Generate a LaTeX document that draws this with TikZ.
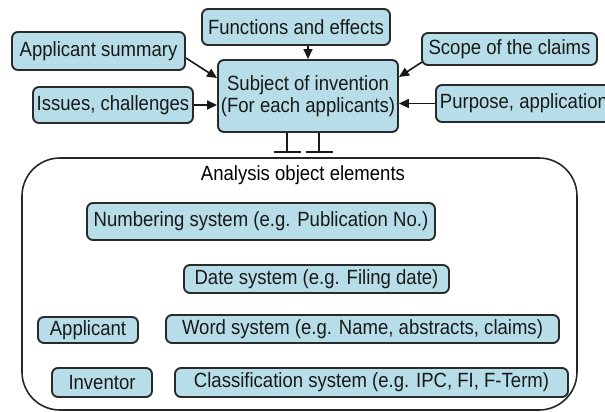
\documentclass[tikz,border=0pt]{standalone}
\usepackage{fontspec}
\setmainfont[FakeStretch=0.9]{Liberation Sans}
\usetikzlibrary{arrows.meta}
\definecolor{boxfill}{HTML}{B7DEE8}
\definecolor{boxline}{HTML}{2A2A2A}

\begin{document}
\begin{tikzpicture}[x=1pt,y=-1pt,
  font=\fontsize{20.6}{22}\selectfont,
  item/.style={draw=boxline, line width=1.9pt, fill=boxfill, rounded corners=6pt,
    inner sep=2pt, align=center, text=black!90},
  frame/.style={draw=black!85, line width=1.6pt, rounded corners=38pt, inner sep=0pt},
  feed/.style={line width=1.6pt, draw=black!90,
    -{Triangle[length=10pt,width=9pt]}},
  link/.style={line width=1.6pt, draw=black!90,
    -{Bar[width=27pt,line width=2.2pt]}}
]
\useasboundingbox (0,0) rectangle (605,412);
\clip (0,0) rectangle (605,412);

% sources feeding the subject of invention
\node[item, minimum width=188, minimum height=36] (func) at (296,27) {Functions and effects};
\node[item, minimum width=173, minimum height=38] (appsum) at (98.5,51) {Applicant summary};
\node[item, minimum width=160, minimum height=36] (issues) at (113,105) {Issues, challenges};
\node[item, minimum width=175, minimum height=32] (scope) at (509.5,49) {Scope of the claims};
\node[item, anchor=west, minimum height=37, inner xsep=4pt] (purpose) at (435,103.5) {Purpose, application};
\node[item, minimum width=180, minimum height=72] (subject) at (308,96) {Subject of invention\\(For each applicants)};

\draw[feed] (func.south -| subject.north) -- (subject.north);
\draw[feed] (appsum.east) ++(0,7) coordinate (asx) (asx) -- (subject.west |- 0,78);
\draw[feed] (issues.east) -- (subject.west |- issues.east);
\draw[feed] (scope.west) ++(1,13) coordinate (scx) (scx) -- (subject.east |- 0,77);
\draw[feed] (purpose.west) -- (subject.east |- purpose.west);

% container of the analysis object elements
\node[frame, minimum width=555, minimum height=252] (frame) at (299.5,284) {};
\node (title) at (303,175) {Analysis object elements};

\coordinate (ltee) at (287,153);
\coordinate (rtee) at (319,153);
\draw[link] (subject.south -| ltee) -- (ltee);
\draw[link] (subject.south -| rtee) -- (rtee);

\node[item, minimum width=348, minimum height=37] (numbering) at (261,221.5) {Numbering system (e.g. Publication No.)};
\node[item, minimum width=265, minimum height=28] (date) at (316.5,279) {Date system (e.g. Filing date)};
\node[item, minimum width=100, minimum height=26] (applicant) at (88,330) {Applicant};
\node[item, minimum width=393, minimum height=28] (word) at (362.5,329) {Word system (e.g. Name, abstracts, claims)};
\node[item, minimum width=100, minimum height=29] (inventor) at (102,382.5) {Inventor};
\node[item, minimum width=393, minimum height=29] (classif) at (371.5,382.5) {Classification system (e.g. IPC, FI, F-Term)};
\end{tikzpicture}
\end{document}
